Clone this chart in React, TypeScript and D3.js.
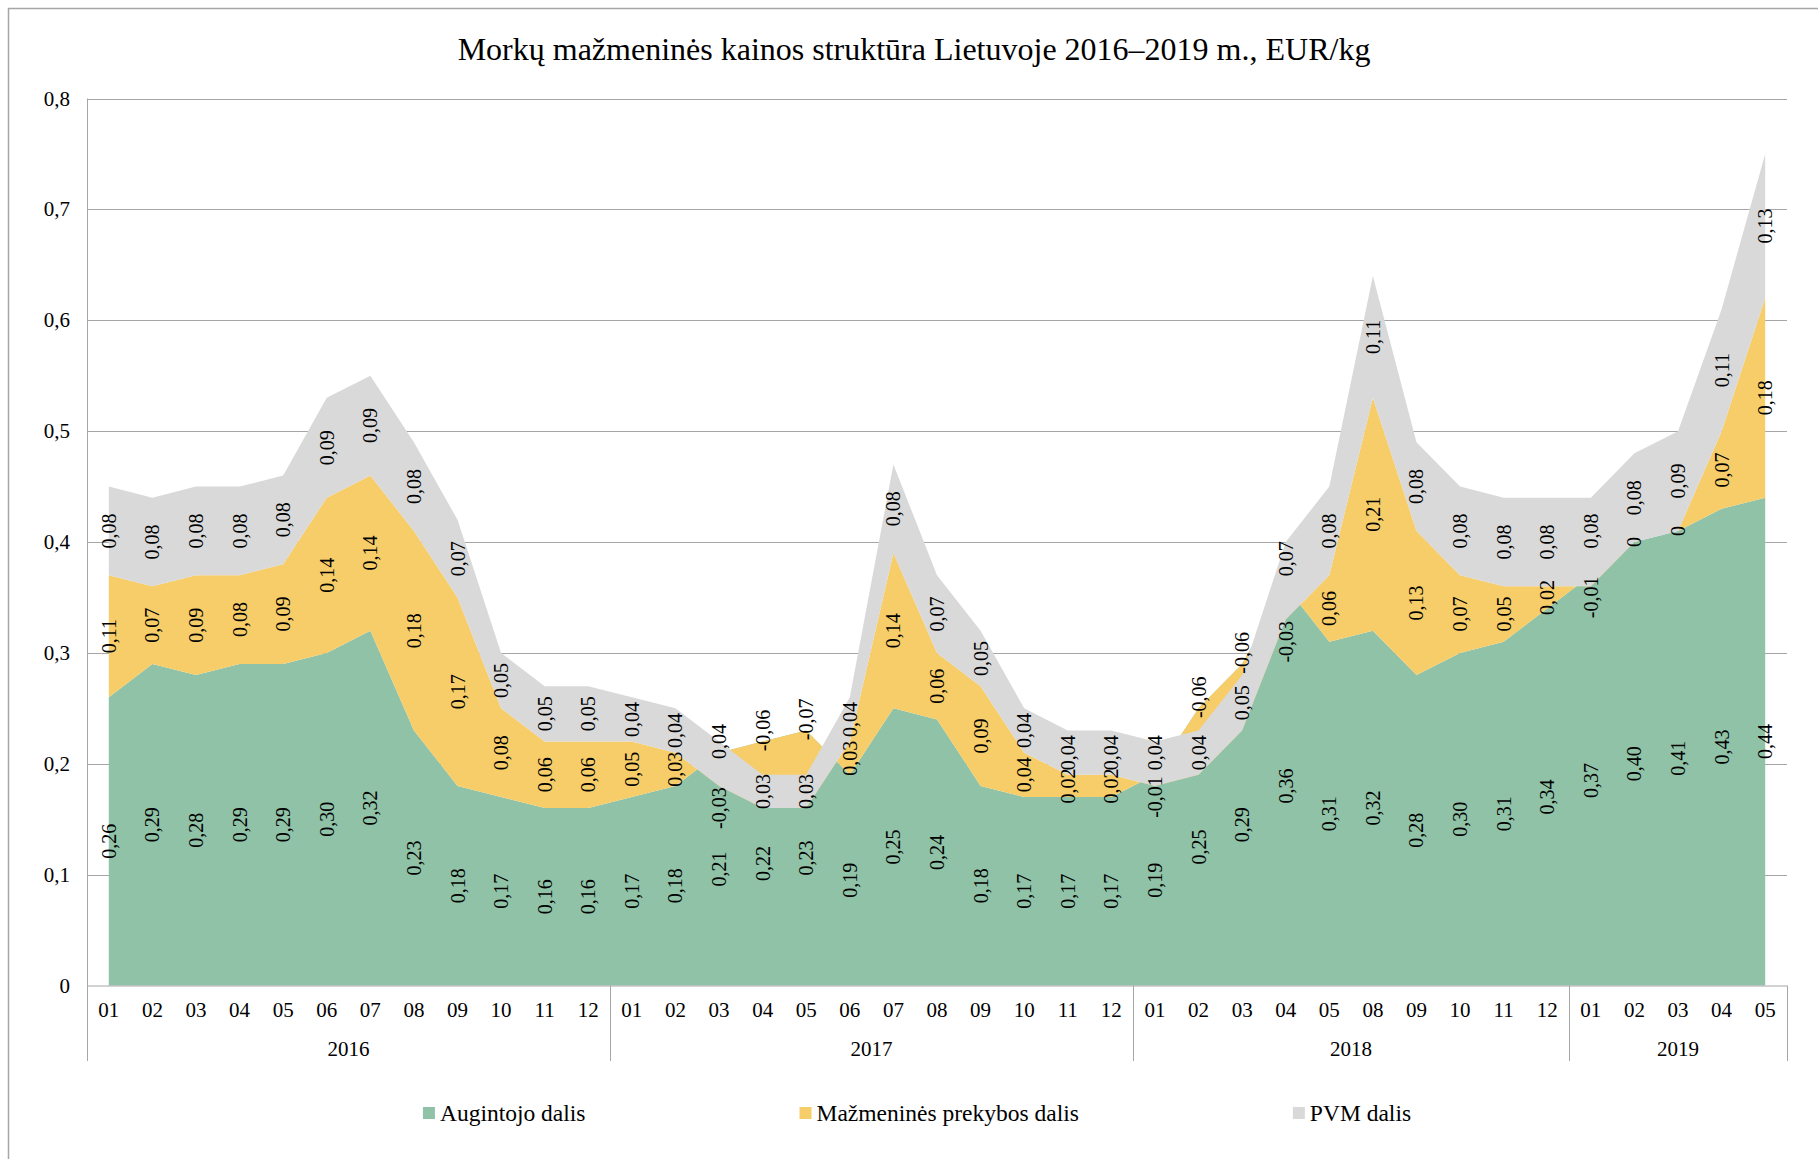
import * as d3 from "d3";
import React, { useEffect, useRef } from "react";

// months shown on the category axis, grouped by year
const years = ["2016", "2017", "2018", "2019"];
const monthsByYear: string[][] = [
  ["01", "02", "03", "04", "05", "06", "07", "08", "09", "10", "11", "12"],
  ["01", "02", "03", "04", "05", "06", "07", "08", "09", "10", "11", "12"],
  ["01", "02", "03", "04", "05", "08", "09", "10", "11", "12"],
  ["01", "02", "03", "04", "05"],
];

const grower = [
  0.26, 0.29, 0.28, 0.29, 0.29, 0.30, 0.32, 0.23, 0.18, 0.17, 0.16, 0.16,
  0.17, 0.18, 0.21, 0.22, 0.23, 0.19, 0.25, 0.24, 0.18, 0.17, 0.17, 0.17,
  0.19, 0.25, 0.29, 0.36, 0.31, 0.32, 0.28, 0.30, 0.31, 0.34,
  0.37, 0.40, 0.41, 0.43, 0.44,
];
const retail = [
  0.11, 0.07, 0.09, 0.08, 0.09, 0.14, 0.14, 0.18, 0.17, 0.08, 0.06, 0.06,
  0.05, 0.03, -0.03, -0.06, -0.07, 0.03, 0.14, 0.06, 0.09, 0.04, 0.02, 0.02,
  -0.01, -0.06, -0.06, -0.03, 0.06, 0.21, 0.13, 0.07, 0.05, 0.02,
  -0.01, 0, 0, 0.07, 0.18,
];
const vat = [
  0.08, 0.08, 0.08, 0.08, 0.08, 0.09, 0.09, 0.08, 0.07, 0.05, 0.05, 0.05,
  0.04, 0.04, 0.04, 0.03, 0.03, 0.04, 0.08, 0.07, 0.05, 0.04, 0.04, 0.04,
  0.04, 0.04, 0.05, 0.07, 0.08, 0.11, 0.08, 0.08, 0.08, 0.08,
  0.08, 0.08, 0.09, 0.11, 0.13,
];

const seriesNames = ["Augintojo dalis", "Mažmeninės prekybos dalis", "PVM dalis"];
const seriesColors = ["#8fc2a6", "#f6cd68", "#d9d9d9"];
const yTicks = [0, 0.1, 0.2, 0.3, 0.4, 0.5, 0.6, 0.7, 0.8];

const title = "Morkų mažmeninės kainos struktūra Lietuvoje 2016–2019 m., EUR/kg";

const W = 1818;
const H = 1159;
const FONT = "'Liberation Serif', 'Times New Roman', serif";

const fmt = (v: number) => (v === 0 ? "0" : v.toFixed(2).replace(".", ","));
const fmtAxis = (v: number) => (v === 0 ? "0" : String(+v.toFixed(1)).replace(".", ","));

const App: React.FC = () => {
  const ref = useRef<SVGSVGElement>(null);

  useEffect(() => {
    if (!ref.current) return;
    const svg = d3.select(ref.current);
    svg.selectAll("*").remove();

    const left = 87,
      right = 1787,
      top = 98.5,
      bottom = 985.5;

    const rows = grower.map((g, i) => ({ i, g, r: retail[i], v: vat[i] }));
    const n = rows.length;

    const x = d3
      .scaleBand<number>()
      .domain(d3.range(n))
      .range([left, right])
      .padding(0);
    const cx = (i: number) => (x(i) as number) + x.bandwidth() / 2;
    const y = d3.scaleLinear().domain([0, 0.8]).range([bottom, top]);

    // outer chart border (cropped on right/bottom in the reference)
    svg
      .append("rect")
      .attr("x", 8.5)
      .attr("y", 8.5)
      .attr("width", W)
      .attr("height", H)
      .attr("fill", "#fff")
      .attr("stroke", "#a6a6a6")
      .attr("stroke-width", 1.5);

    // title
    svg
      .append("text")
      .attr("x", 914)
      .attr("y", 60)
      .attr("text-anchor", "middle")
      .style("font-family", FONT)
      .style("font-size", "32px")
      .text(title);

    // gridlines
    svg
      .append("g")
      .selectAll("line")
      .data(yTicks.filter((t) => t > 0))
      .join("line")
      .attr("x1", left)
      .attr("x2", right)
      .attr("y1", (d) => Math.round(y(d)) + 0.5)
      .attr("y2", (d) => Math.round(y(d)) + 0.5)
      .attr("stroke", "#a6a6a6")
      .attr("stroke-width", 1);

    // stacked areas (Excel-style: negatives simply step the stack down)
    const stack = d3
      .stack<any>()
      .keys(["g", "r", "v"])
      .order(d3.stackOrderNone)
      .offset(d3.stackOffsetNone);
    const stacked = stack(rows);

    const area = d3
      .area<any>()
      .x((d: any) => cx(d.data.i))
      .y0((d) => y(d[0]))
      .y1((d) => y(d[1]));

    svg
      .append("g")
      .selectAll("path")
      .data(stacked)
      .join("path")
      .attr("d", (s) => area(s as any))
      .attr("fill", (_, k) => seriesColors[k]);

    // axes
    svg
      .append("line")
      .attr("x1", left + 0.5)
      .attr("x2", left + 0.5)
      .attr("y1", top)
      .attr("y2", bottom)
      .attr("stroke", "#a6a6a6");
    svg
      .append("line")
      .attr("x1", left)
      .attr("x2", right)
      .attr("y1", bottom + 0.5)
      .attr("y2", bottom + 0.5)
      .attr("stroke", "#a6a6a6");

    svg
      .append("g")
      .selectAll("text")
      .data(yTicks)
      .join("text")
      .attr("x", 70)
      .attr("y", (d) => y(d) + 7)
      .attr("text-anchor", "end")
      .style("font-family", FONT)
      .style("font-size", "21px")
      .text((d) => fmtAxis(d));

    // category axis: months + year groups
    const months = monthsByYear.flat();
    svg
      .append("g")
      .selectAll("text")
      .data(months)
      .join("text")
      .attr("x", (_, i) => cx(i))
      .attr("y", 1017)
      .attr("text-anchor", "middle")
      .style("font-family", FONT)
      .style("font-size", "21px")
      .text((d) => d);

    let start = 0;
    const groups = monthsByYear.map((m, k) => {
      const g = { year: years[k], s: start, e: start + m.length };
      start += m.length;
      return g;
    });
    const bx = (i: number) => (i >= n ? right : (x(i) as number));

    svg
      .append("g")
      .selectAll("line")
      .data([0, ...groups.map((g) => g.e)])
      .join("line")
      .attr("x1", (d) => Math.round(bx(d)) + 0.5)
      .attr("x2", (d) => Math.round(bx(d)) + 0.5)
      .attr("y1", bottom)
      .attr("y2", 1061)
      .attr("stroke", "#a6a6a6");

    svg
      .append("g")
      .selectAll("text")
      .data(groups)
      .join("text")
      .attr("x", (g) => (bx(g.s) + bx(g.e)) / 2)
      .attr("y", 1056)
      .attr("text-anchor", "middle")
      .style("font-family", FONT)
      .style("font-size", "21px")
      .text((g) => g.year);

    // data labels, rotated; centred in each band, except where the retail
    // share is negative - then Excel pushes the labels apart
    const labels = stacked.flatMap((s, k) =>
      s.map((d: any) => {
        const i = d.data.i;
        const g = grower[i],
          r = retail[i],
          t = g + r + vat[i];
        let pos = (d[0] + d[1]) / 2;
        if (r < 0 && k === 1) {
          pos = t < g ? g + 0.01 : d[1] + r / 2 - 0.005;
        } else if (r < 0 && k === 2 && t >= g) {
          pos = (g + t) / 2 + 0.005;
        }
        return { i, pos, v: [grower, retail, vat][k][i] };
      })
    );
    svg
      .append("g")
      .selectAll("text")
      .data(labels)
      .join("text")
      .attr("transform", (d) => `translate(${cx(d.i)},${y(d.pos)}) rotate(-90)`)
      .attr("text-anchor", "middle")
      .attr("dominant-baseline", "central")
      .style("font-family", FONT)
      .style("font-size", "20px")
      .text((d) => fmt(d.v));

    // legend
    const lg = svg.append("g");
    const items = seriesNames.map((name, k) => {
      const t = lg
        .append("text")
        .attr("y", 1121)
        .style("font-family", FONT)
        .style("font-size", "23.5px")
        .text(name);
      const w = (t.node() as SVGTextElement).getComputedTextLength();
      return { t, w, k };
    });
    const sq = 12,
      pad = 5,
      gap = 214;
    const total =
      d3.sum(items, (it) => sq + pad + it.w) + gap * (items.length - 1);
    let lx = 917 - total / 2;
    items.forEach((it) => {
      lg.append("rect")
        .attr("x", lx)
        .attr("y", 1107)
        .attr("width", sq)
        .attr("height", sq)
        .attr("fill", seriesColors[it.k]);
      it.t.attr("x", lx + sq + pad);
      lx += sq + pad + it.w + gap;
    });
  }, []);

  return (
    <svg
      ref={ref}
      width={W}
      height={H}
      style={{ position: "absolute", left: 0, top: 0, background: "#fff" }}
    />
  );
};

export default App;
